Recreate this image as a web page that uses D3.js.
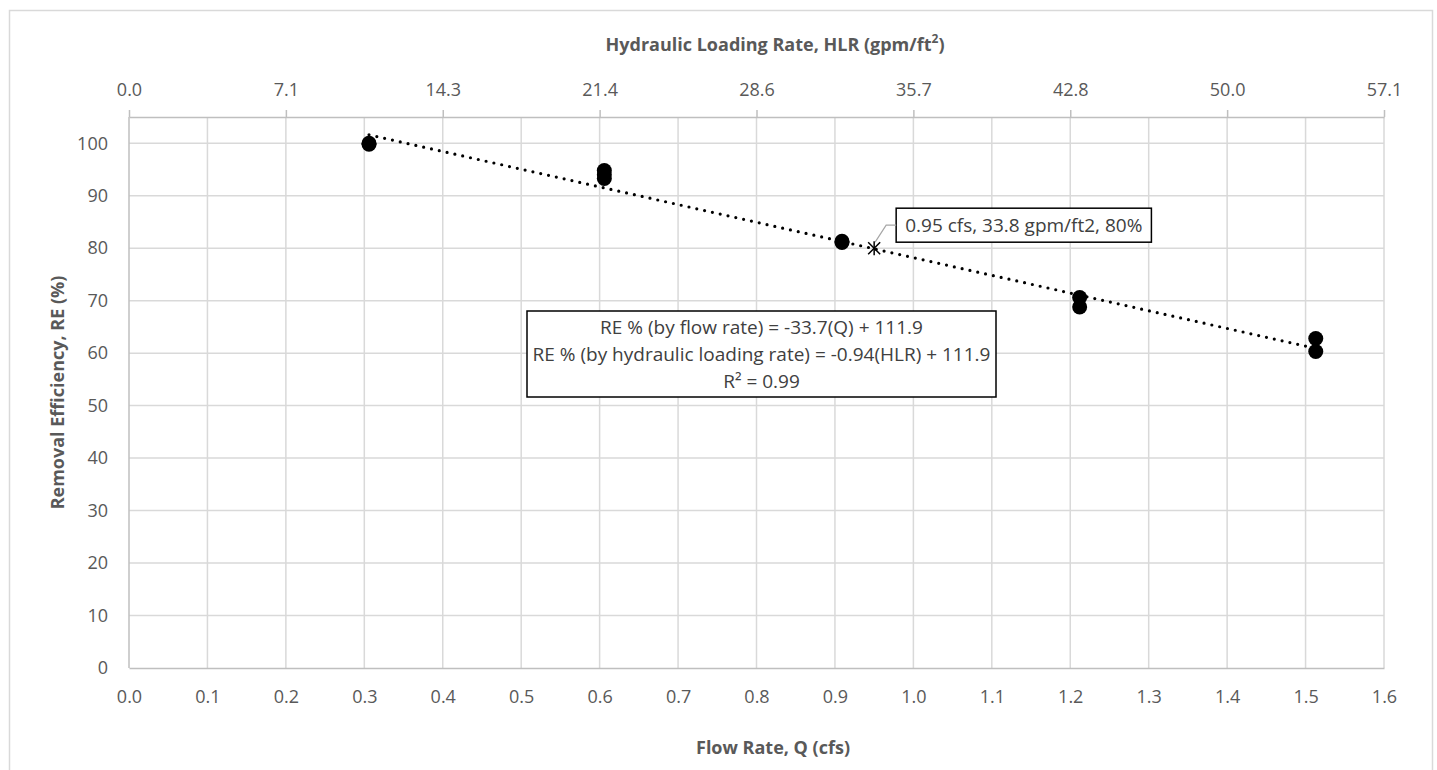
<!DOCTYPE html>
<html>
<head>
<meta charset="utf-8">
<script src="https://cdn.jsdelivr.net/npm/d3@7"></script>
<style>
  body { margin: 0; background: #fff; }
  text { font-family: "Open Sans", sans-serif; fill: #595959; }
  .axis text { font-size: 18px; }
  .axis-title { font-size: 18px; font-weight: bold; }
</style>
</head>
<body>
<div class="chart-container"></div>
<script>
// data
const flowRate = [0.306, 0.306, 0.606, 0.606, 0.606, 0.909, 0.909, 1.212, 1.212, 1.513, 1.513];
const removalEff = [100.0, 99.8, 94.8, 94.0, 93.3, 81.3, 81.1, 70.6, 68.8, 62.8, 60.3];
// trend line RE = -33.7(Q) + 111.9, drawn across the measured range
const trendQ = [0.306, 1.513];
const trendRE = [101.6, 60.9];
// design point
const designPoint = {q: 0.95, re: 80, label: '0.95 cfs, 33.8 gpm/ft2, 80%'};
// axes
const xTicks = [0, 0.1, 0.2, 0.3, 0.4, 0.5, 0.6, 0.7, 0.8, 0.9, 1.0, 1.1, 1.2, 1.3, 1.4, 1.5, 1.6];
const yTicks = [0, 10, 20, 30, 40, 50, 60, 70, 80, 90, 100];
const hlrTickQ = [0, 0.2, 0.4, 0.6, 0.8, 1.0, 1.2, 1.4, 1.6];
const hlrLabels = ['0.0', '7.1', '14.3', '21.4', '28.6', '35.7', '42.8', '50.0', '57.1'];
const equationLines = [
  'RE % (by flow rate) = -33.7(Q) + 111.9',
  'RE % (by hydraulic loading rate) = -0.94(HLR) + 111.9',
  'R\u00b2 = 0.99'
];

const svg_width = 1437;
const svg_height = 770;
const chart_margin = {top: 117, right: 53, bottom: 102, left: 129};
const chart_width = svg_width - (chart_margin.left + chart_margin.right);
const chart_height = svg_height - (chart_margin.top + chart_margin.bottom);

const svg = d3.select('.chart-container').append('svg')
  .attr('width', svg_width).attr('height', svg_height);

// outer frame
svg.append('rect').attr('x', 9.5).attr('y', 10.5).attr('width', 1423).attr('height', 770)
  .attr('fill', 'none').attr('stroke', '#d9d9d9').attr('stroke-width', 1.5);

const g = svg.append('g').attr('transform', `translate(${chart_margin.left},${chart_margin.top})`);

const xScale = d3.scaleLinear([0, 1.6], [0, chart_width]);
const yScale = d3.scaleLinear([0, 105], [chart_height, 0]);

// grid
g.append('g').selectAll('line').data(yTicks.filter(d => d > 0)).join('line')
  .attr('x1', 0).attr('x2', chart_width)
  .attr('y1', d => yScale(d)).attr('y2', d => yScale(d))
  .attr('stroke', '#d9d9d9').attr('stroke-width', 1.5);
g.append('g').selectAll('line').data(xTicks.filter(d => d > 0)).join('line')
  .attr('x1', d => xScale(d)).attr('x2', d => xScale(d))
  .attr('y1', 0).attr('y2', chart_height)
  .attr('stroke', '#d9d9d9').attr('stroke-width', 1.5);

// bottom axis
const xAxis = d3.axisBottom(xScale).tickValues(xTicks).tickFormat(d3.format('.1f')).tickSize(0).tickPadding(22);
const xAxisDraw = g.append('g').attr('class', 'axis')
  .attr('transform', `translate(0,${chart_height})`).call(xAxis);

// left axis
const yAxis = d3.axisLeft(yScale).tickValues(yTicks).tickSize(0).tickPadding(21);
const yAxisDraw = g.append('g').attr('class', 'axis').call(yAxis);

// top axis (hydraulic loading rate)
const topAxis = d3.axisTop(xScale).tickValues(hlrTickQ)
  .tickFormat((d, i) => hlrLabels[i]).tickSizeInner(7).tickSizeOuter(0).tickPadding(14);
const topAxisDraw = g.append('g').attr('class', 'axis').call(topAxis);

[xAxisDraw, yAxisDraw, topAxisDraw].forEach(a => {
  a.selectAll('path').attr('stroke', '#bfbfbf').attr('stroke-width', 1.5);
  a.selectAll('line').attr('stroke', '#bfbfbf').attr('stroke-width', 1.5);
  a.selectAll('text').style('fill', '#595959');
});
yAxisDraw.select('path').remove();
g.append('line').attr('x1', 0).attr('x2', 0).attr('y1', 0).attr('y2', chart_height)
  .attr('stroke', '#bfbfbf').attr('stroke-width', 1.5);

// trend line
const line = d3.line().x(d => xScale(d[0])).y(d => yScale(d[1]));
g.append('path').datum(trendQ.map((q, i) => [q, trendRE[i]]))
  .attr('d', line).attr('fill', 'none').attr('stroke', '#000')
  .attr('stroke-width', 3.2).attr('stroke-linecap', 'round').attr('stroke-dasharray', '0,8');

// points
g.append('g').selectAll('circle').data(flowRate.map((q, i) => ({q: q, re: removalEff[i]}))).join('circle')
  .attr('cx', d => xScale(d.q)).attr('cy', d => yScale(d.re)).attr('r', 7.5).attr('fill', '#000');

// design point marker (asterisk)
const dx = xScale(designPoint.q), dy = yScale(designPoint.re);
const star = g.append('g').attr('transform', `translate(${dx},${dy})`)
  .attr('stroke', '#000').attr('stroke-width', 1.5);
star.append('line').attr('x1', -6).attr('y1', -6).attr('x2', 6).attr('y2', 6);
star.append('line').attr('x1', -6).attr('y1', 6).attr('x2', 6).attr('y2', -6);
star.append('line').attr('x1', 0).attr('y1', -7).attr('x2', 0).attr('y2', 7);

// callout
const callout = g.append('g').attr('transform', `translate(${dx + 22},${dy - 23})`);
const calloutText = callout.append('text').attr('x', 9).attr('y', 0).attr('dy', '0.35em')
  .style('font-size', '19px').style('fill', '#404040').text(designPoint.label);
const cb = calloutText.node().getBBox();
callout.insert('rect', 'text').attr('x', 0).attr('y', -17).attr('width', cb.width + 18).attr('height', 34)
  .attr('fill', '#fff').attr('stroke', '#000').attr('stroke-width', 1.5);
g.append('polyline')
  .attr('points', `${dx + 1},${dy - 6} ${dx + 12},${dy - 23} ${dx + 22},${dy - 23}`)
  .attr('fill', 'none').attr('stroke', '#a6a6a6').attr('stroke-width', 1.2);

// equation box
const eq = g.append('g').attr('transform', `translate(${761.5 - chart_margin.left},${354 - chart_margin.top})`);
const eqText = eq.append('text').attr('text-anchor', 'middle').style('font-size', '19px').style('fill', '#404040');
equationLines.forEach((t, i) => {
  eqText.append('tspan').attr('x', 0).attr('y', (i - 1) * 27).attr('dy', '0.35em').text(t);
});
eq.insert('rect', 'text').attr('x', -234.5).attr('y', -43).attr('width', 469).attr('height', 86)
  .attr('fill', '#fff').attr('stroke', '#000').attr('stroke-width', 1.5);

// axis titles
svg.append('text').attr('class', 'axis-title').attr('x', 775).attr('y', 45).attr('dy', '0.35em')
  .attr('text-anchor', 'middle').html('Hydraulic Loading Rate, HLR (gpm/ft<tspan baseline-shift="super" font-size="12px">2</tspan>)');
svg.append('text').attr('class', 'axis-title').attr('x', 773).attr('y', 748).attr('dy', '0.35em')
  .attr('text-anchor', 'middle').text('Flow Rate, Q (cfs)');
svg.append('text').attr('class', 'axis-title')
  .attr('transform', `translate(58,${chart_margin.top + chart_height / 2}) rotate(-90)`)
  .attr('dy', '0.35em').attr('text-anchor', 'middle').text('Removal Efficiency, RE (%)');
</script>
</body>
</html>
